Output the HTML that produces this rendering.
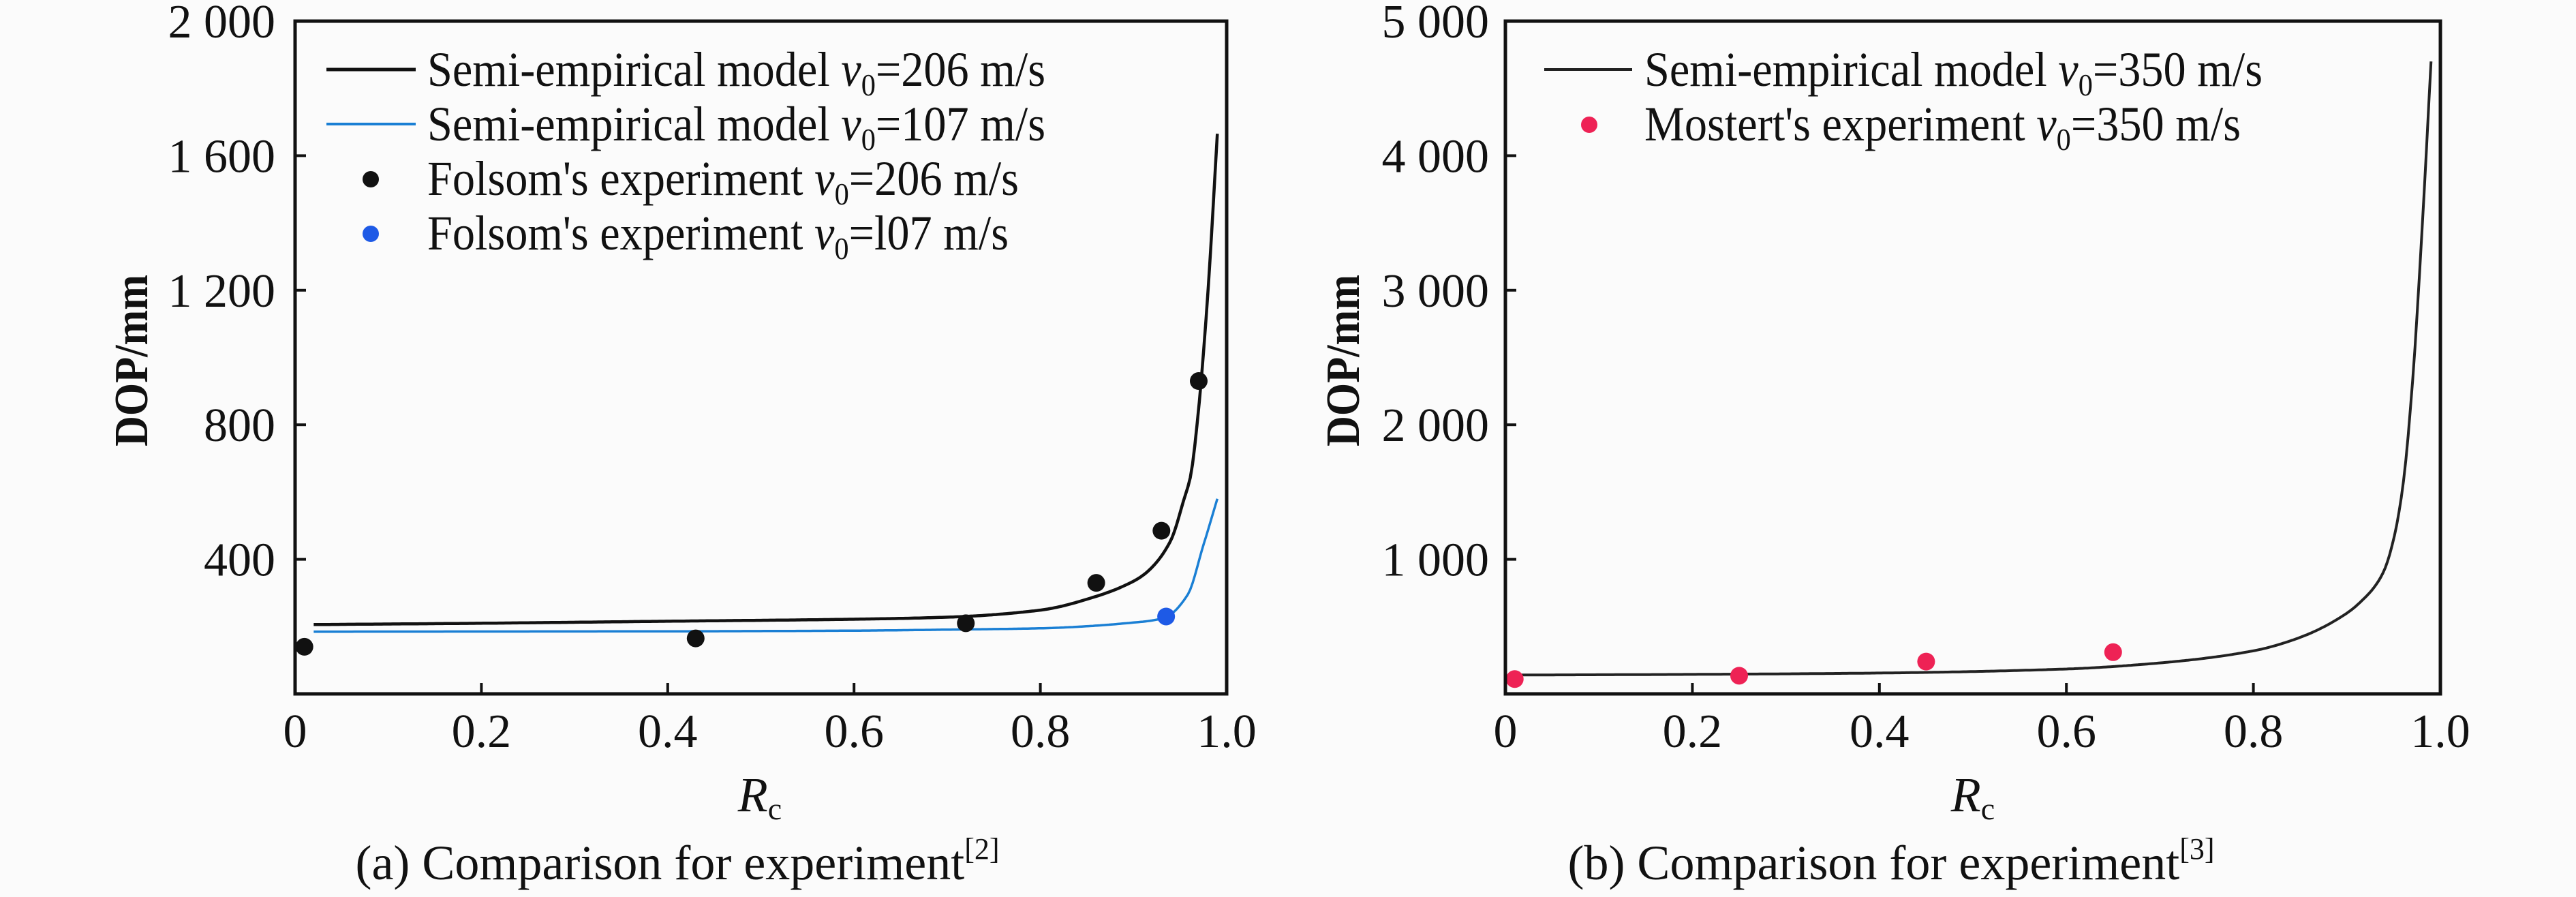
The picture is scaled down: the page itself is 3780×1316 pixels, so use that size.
<!DOCTYPE html>
<html><head><meta charset="utf-8"><style>
html,body{margin:0;padding:0;background:#fbfbfb}
svg{display:block}
text{font-family:"Liberation Serif",serif;fill:#111}
</style></head><body>
<svg id="fig" width="3780" height="1316" viewBox="0 0 3780 1316">
<rect x="0" y="0" width="3780" height="1316" fill="#fbfbfb"/>
<g id="pa"></g>
<g id="pb"></g>
</svg>
<script>
// Panel (a) data
const aCurve206X = [0.02,0.2,0.4,0.6,0.7,0.8,0.86,0.9,0.914,0.94,0.954,0.961,0.97,0.98,0.99];
const aCurve206Y = [206,210,216,222,228,249,290,335,361,456,577,644,850,1200,1665];
const aCurve107X = [0.02,0.4,0.6,0.7,0.8,0.9,0.932,0.958,0.975,0.99];
const aCurve107Y = [185,186,188,191,195,212,225,294,442,580];
const aPts206X = [0.01,0.43,0.72,0.86,0.93,0.97];
const aPts206Y = [140,165,210,330,485,930];
const aPts107X = [0.935];
const aPts107Y = [230];
const aYTicks = [0,400,800,1200,1600,2000];
const aYTickLabels = ["","400","800","1 200","1 600","2 000"];
// Panel (b) data
const bCurveX = [0.01,0.2,0.4,0.6,0.7,0.8,0.85,0.9,0.92,0.93,0.94,0.95,0.96,0.97,0.98,0.99];
const bCurveY = [140,145,155,185,230,320,420,600,720,800,920,1150,1550,2300,3400,4700];
const bPtsX = [0.01,0.25,0.45,0.65];
const bPtsY = [110,135,240,310];
const bYTicks = [0,1000,2000,3000,4000,5000];
const bYTickLabels = ["","1 000","2 000","3 000","4 000","5 000"];
const xTicks = [0,0.2,0.4,0.6,0.8,1.0];
const xTickLabels = ["0","0.2","0.4","0.6","0.8","1.0"];

const NS="http://www.w3.org/2000/svg";
function mk(parent,tag,attrs,txt){const e=document.createElementNS(NS,tag);for(const k in attrs)e.setAttribute(k,attrs[k]);if(txt!==undefined)e.textContent=txt;parent.appendChild(e);return e;}
function monotone(xs,ys){
  const n=xs.length,d=[],m=new Array(n);
  for(let i=0;i<n-1;i++)d.push((ys[i+1]-ys[i])/(xs[i+1]-xs[i]));
  m[0]=d[0];m[n-1]=d[n-2];
  for(let i=1;i<n-1;i++){
    if(d[i-1]*d[i]<=0)m[i]=0;
    else{const h0=xs[i]-xs[i-1],h1=xs[i+1]-xs[i];const w1=2*h1+h0,w2=h1+2*h0;m[i]=(w1+w2)/(w1/d[i-1]+w2/d[i]);}
  }
  return x=>{
    let i=0;while(i<n-2&&x>xs[i+1])i++;
    const h=xs[i+1]-xs[i],t=(x-xs[i])/h,t2=t*t,t3=t2*t;
    return (2*t3-3*t2+1)*ys[i]+(t3-2*t2+t)*h*m[i]+(-2*t3+3*t2)*ys[i+1]+(t3-t2)*h*m[i+1];
  };
}

function panel(g,cfg){
  const L=cfg.left,R=cfg.right,T=31,B=1018;
  const sx=v=>L+(R-L)*v, sy=v=>B-(B-T)*v/cfg.ymax;
  xTicks.forEach((t,i)=>{
    if(i>0&&i<xTicks.length-1){let tk=mk(g,'line',{x1:sx(t),x2:sx(t),y1:B,y2:B-16,stroke:'#111','stroke-width':4});
    }
    let tl=mk(g,'text',{x:sx(t),y:1096,'font-size':70,'text-anchor':'middle'},xTickLabels[i]);
    
    
  });
  cfg.yticks.forEach((t,i)=>{
    if(i>0&&i<cfg.yticks.length-1){let tk=mk(g,'line',{x1:L,x2:L+16,y1:sy(t),y2:sy(t),stroke:'#111','stroke-width':4});
    }
    if(cfg.ylabels[i]){let tl=mk(g,'text',{x:cfg.ylabX,y:sy(t)+24,'font-size':70,'text-anchor':'end'},cfg.ylabels[i]);
    
    }
  });
  cfg.curves.forEach(c=>{
    const f=monotone(c.x,c.y);
    const x0=c.x[0],x1=c.x[c.x.length-1],N=400;
    let d='';
    for(let k=0;k<=N;k++){const x=x0+(x1-x0)*k/N;d+=(k?'L':'M')+sx(x).toFixed(1)+' '+sy(f(x)).toFixed(1);}
    let p=mk(g,'path',{d:d,fill:'none',stroke:c.color,'stroke-width':c.w,'stroke-linejoin':'round'});
    
    
  });
  cfg.points.forEach(s=>{
    s.x.forEach((v,i)=>{
      let c=mk(g,'circle',{cx:sx(v),cy:sy(s.y[i]),r:13,fill:s.color});
      
      
    });
  });
  let fr=mk(g,'rect',{x:L,y:T,width:R-L,height:B-T,fill:'none',stroke:'#111','stroke-width':5});
  
  
  cfg.legend.forEach((e,i)=>{
    const y=126+80*i;
    if(e.type==='line'){let l=mk(g,'line',{x1:e.lx1,x2:e.lx2,y1:y-24,y2:y-24,stroke:e.color,'stroke-width':e.w});
      }
    else{let c=mk(g,'circle',{cx:e.cx,cy:y-23,r:12,fill:e.color});
      }
    let t=mk(g,'text',{x:cfg.legX,y:y,'font-size':72,textLength:e.len,lengthAdjust:'spacingAndGlyphs'});
    
    
    mk(t,'tspan',{},e.pre);
    mk(t,'tspan',{'font-style':'italic'},'v');
    mk(t,'tspan',{'font-size':46,dy:14},'0');
    mk(t,'tspan',{dy:-14},e.post);
  });
  let yt=mk(g,'text',{x:0,y:0,'font-size':70,'font-weight':'bold','text-anchor':'middle',transform:`translate(${cfg.ytitleX},529) rotate(-90)`,textLength:252,lengthAdjust:'spacingAndGlyphs'},'DOP/mm');
  
  
  let xt=mk(g,'text',{x:cfg.rcX,y:1190,'font-size':72,'text-anchor':'middle'});
  
  
  mk(xt,'tspan',{'font-style':'italic'},'R');
  mk(xt,'tspan',{'font-size':46,dy:12},'c');
  let cp=mk(g,'text',{x:cfg.capX,y:1290,'font-size':72,'text-anchor':'middle'});
  
  
  mk(cp,'tspan',{},cfg.cap);
  mk(cp,'tspan',{'font-size':44,dy:-30},cfg.ref);
}

panel(document.getElementById('pa'),{
  left:433,right:1800,ymax:2000,yticks:aYTicks,ylabels:aYTickLabels,ylabX:404,ytitleX:216,rcX:1115,capX:994,
  cap:'(a) Comparison for experiment',ref:'[2]',legX:627,
  curves:[{x:aCurve206X,y:aCurve206Y,color:'#111',w:4.5,name:'curve-206'},{x:aCurve107X,y:aCurve107Y,color:'#1a7fd4',w:3.5,name:'curve-107'}],
  points:[{x:aPts206X,y:aPts206Y,color:'#111',name:'point-folsom-206'},{x:aPts107X,y:aPts107Y,color:'#1e5ae6',name:'point-folsom-107'}],
  legend:[
    {type:'line',lx1:479,lx2:610,color:'#111',w:5,pre:'Semi-empirical model ',post:'=206 m/s',len:907},
    {type:'line',lx1:479,lx2:610,color:'#1a7fd4',w:4,pre:'Semi-empirical model ',post:'=107 m/s',len:907},
    {type:'dot',cx:544,color:'#111',pre:"Folsom's experiment ",post:'=206 m/s',len:868},
    {type:'dot',cx:544,color:'#1e5ae6',pre:"Folsom's experiment ",post:'=l07 m/s',len:853}
  ]
});
panel(document.getElementById('pb'),{
  left:2209,right:3581,ymax:5000,yticks:bYTicks,ylabels:bYTickLabels,ylabX:2185,ytitleX:1994,rcX:2895,capX:2775,
  cap:'(b) Comparison for experiment',ref:'[3]',legX:2413,
  curves:[{x:bCurveX,y:bCurveY,color:'#222',w:4,name:'curve-350'}],
  points:[{x:bPtsX,y:bPtsY,color:'#ee2255',name:'point-mostert-350'}],
  legend:[
    {type:'line',lx1:2266,lx2:2395,color:'#222',w:4,pre:'Semi-empirical model ',post:'=350 m/s',len:907},
    {type:'dot',cx:2332,color:'#ee2255',pre:"Mostert's experiment ",post:'=350 m/s',len:875}
  ]
});
</script>
</body></html>
